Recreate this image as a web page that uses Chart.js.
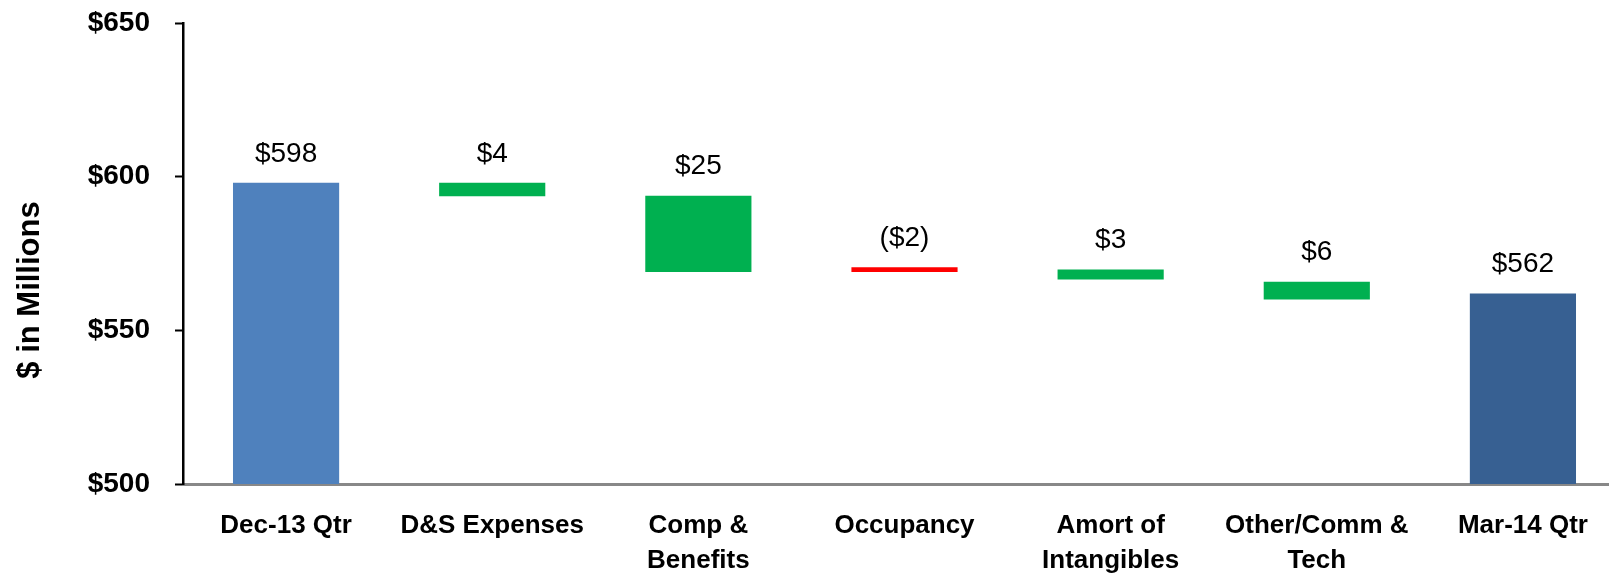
<!DOCTYPE html>
<html>
<head>
<meta charset="utf-8">
<script src="https://cdn.jsdelivr.net/npm/chart.js@4.4.1/dist/chart.umd.min.js"></script>
<style>
  html, body { margin: 0; padding: 0; background: #fff; }
  #wrap { width: 1609px; height: 574px; overflow: hidden; }
</style>
</head>
<body>
<div id="wrap"><canvas id="grafica" width="1632" height="574"></canvas></div>
<script>
// categorias y valores (inicio, fin) de cada barra
const categorias = ['Dec-13 Qtr', 'D&S Expenses', ['Comp &', 'Benefits'], 'Occupancy',
                    ['Amort of', 'Intangibles'], ['Other/Comm &', 'Tech'], 'Mar-14 Qtr'];
const inicio = [500, 593.6, 569, 569, 566.5, 560, 500];
const fin    = [598, 598, 593.8, 570.5, 569.8, 565.8, 562];
const etiquetas = ['$598', '$4', '$25', '($2)', '$3', '$6', '$562'];
const colores = ['#4F81BD', '#00B050', '#00B050', '#FF0000', '#00B050', '#00B050', '#376092'];
const ticksY = ['$500', '$550', '$600', '$650'];
const tituloY = '$ in Millions';

const datos = inicio.map((v, i) => [v, fin[i]]);

// etiquetas encima de cada barra + titulo del eje
const pluginEtiquetas = {
    id: 'etiquetas',
    afterDatasetsDraw(chart) {
        const ctx = chart.ctx;
        const meta = chart.getDatasetMeta(0);
        ctx.save();
        ctx.font = '28px "Liberation Sans", Arial, sans-serif';
        ctx.fillStyle = '#000';
        ctx.textAlign = 'center';
        ctx.textBaseline = 'middle';
        meta.data.forEach((bar, i) => {
            const top = Math.min(bar.y, bar.base);
            ctx.fillText(etiquetas[i], bar.x, top - 29);
        });
        // titulo vertical
        ctx.font = 'bold 31px "Liberation Sans", Arial, sans-serif';
        ctx.translate(30, 290);
        ctx.rotate(-Math.PI / 2);
        ctx.fillText(tituloY, 0, 0);
        ctx.restore();
    }
};

const ctx = document.getElementById('grafica').getContext('2d');
new Chart(ctx, {
    type: 'bar',
    data: {
        labels: categorias,
        datasets: [{
            data: datos,
            backgroundColor: colores,
            borderWidth: 0,
            categoryPercentage: 1,
            barPercentage: 0.515
        }]
    },
    options: {
        responsive: false,
        animation: false,
        layout: { padding: { top: 23, right: 6, left: 0, bottom: 0 } },
        plugins: { legend: { display: false }, tooltip: { enabled: false } },
        scales: {
            x: {
                grid: { display: false, drawTicks: false },
                border: { color: '#888888', width: 3 },
                ticks: {
                    color: '#000',
                    padding: 24,
                    maxRotation: 0,
                    autoSkip: false,
                    font: { family: '"Liberation Sans", Arial, sans-serif', size: 26, weight: 'bold', lineHeight: 1.35 }
                },
                afterFit(scale) { scale.height = 90; }
            },
            y: {
                min: 500,
                max: 650,
                grid: { display: true, drawOnChartArea: false, drawTicks: true, tickLength: 8, color: '#000', tickColor: '#000', tickWidth: 2 },
                border: { color: '#000', width: 2.5 },
                ticks: {
                    stepSize: 50,
                    color: '#000',
                    padding: 25,
                    font: { family: '"Liberation Sans", Arial, sans-serif', size: 28, weight: 'bold' },
                    callback: (v) => ticksY[(v - 500) / 50]
                },
                afterFit(scale) {
                    scale.width = 183;
                    // sin relleno extra arriba/abajo por las etiquetas
                    scale.paddingTop = 0;
                    scale.paddingBottom = 0;
                }
            }
        }
    },
    plugins: [pluginEtiquetas]
});
</script>
</body>
</html>
